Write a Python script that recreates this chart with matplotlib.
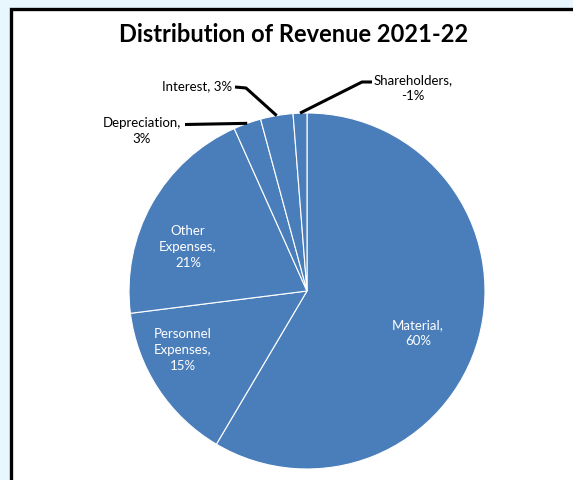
import numpy as np
import matplotlib
matplotlib.use('Agg')
import matplotlib.pyplot as plt
from matplotlib.patches import Rectangle

plt.rcParams['font.family'] = ['Lato', 'DejaVu Sans']

# slice sizes (share of the pie as drawn) and the labels shown on the chart
categories = ['Material', 'Personnel Expenses', 'Other Expenses',
              'Depreciation', 'Interest', 'Shareholders']
sizes = [58.5, 14.5, 20.3, 2.5, 2.95, 1.25]
labels = ['Material,\n60%', 'Personnel\nExpenses,\n15%', 'Other\nExpenses,\n21%',
          'Depreciation,\n3%', 'Interest, 3%', 'Shareholders,\n-1%']

W, H = 573, 481
fig = plt.figure(figsize=(W / 100, H / 100), dpi=100)
fig.patch.set_facecolor('#e8f6fd')
ax = fig.add_axes([0, 0, 1, 1])
ax.set_facecolor('none')

# chart frame (runs off the right/bottom edge like the screenshot)
ax.add_patch(Rectangle((11, -20), 700, H - 9.5 + 20, facecolor='white',
                       edgecolor='black', linewidth=2.4, zorder=0))

cx, cy, r = 307, H - 292, 178
wedges, _ = ax.pie(sizes, startangle=90, counterclock=False, colors=['#4a7ebb'],
                   center=(cx, cy), radius=r,
                   wedgeprops=dict(edgecolor='white', linewidth=0.8))
ax.set_xlim(0, W)
ax.set_ylim(0, H)
ax.set_aspect('equal')
ax.axis('off')

ax.text(294, H - 35, 'Distribution of Revenue 2021-22', ha='center', va='center',
        fontsize=17, fontweight='bold', color='black')

# labels inside the big slices
inside = {0: (418, 333), 1: (183, 350), 2: (188, 247)}
for i, (x, y) in inside.items():
    ax.text(x, H - y, labels[i], ha='center', va='center', color='white',
            fontsize=9.5, linespacing=1.4)

# small slices: outside labels with leader lines
outside = {
    3: dict(text=(142, 131), elbow=(185, 125.5)),
    4: dict(text=(197, 86), elbow=(235, 88)),
    5: dict(text=(413, 88), elbow=(372, 83)),
}
for i, o in outside.items():
    w = wedges[i]
    mid = np.deg2rad((w.theta1 + w.theta2) / 2)
    ax_x = cx + r * np.cos(mid)
    ax_y = cy + r * np.sin(mid)
    ex, ey = o['elbow']
    if i == 3:
        pts = [(ex, H - ey), (ax_x, ax_y)]
    elif i == 4:
        pts = [(ex, H - ey), (ex + 11, H - ey - 1), (ax_x, ax_y)]
    else:
        pts = [(ex, H - ey), (ex - 10, H - ey), (ax_x, ax_y)]
    xs, ys = zip(*pts)
    ax.plot(xs, ys, color='black', linewidth=2.2, solid_capstyle='butt')
    tx, ty = o['text']
    ax.text(tx, H - ty, labels[i], ha='center', va='center', color='black',
            fontsize=9.5, linespacing=1.4)

fig.savefig('out.png', dpi=100, facecolor=fig.get_facecolor())
